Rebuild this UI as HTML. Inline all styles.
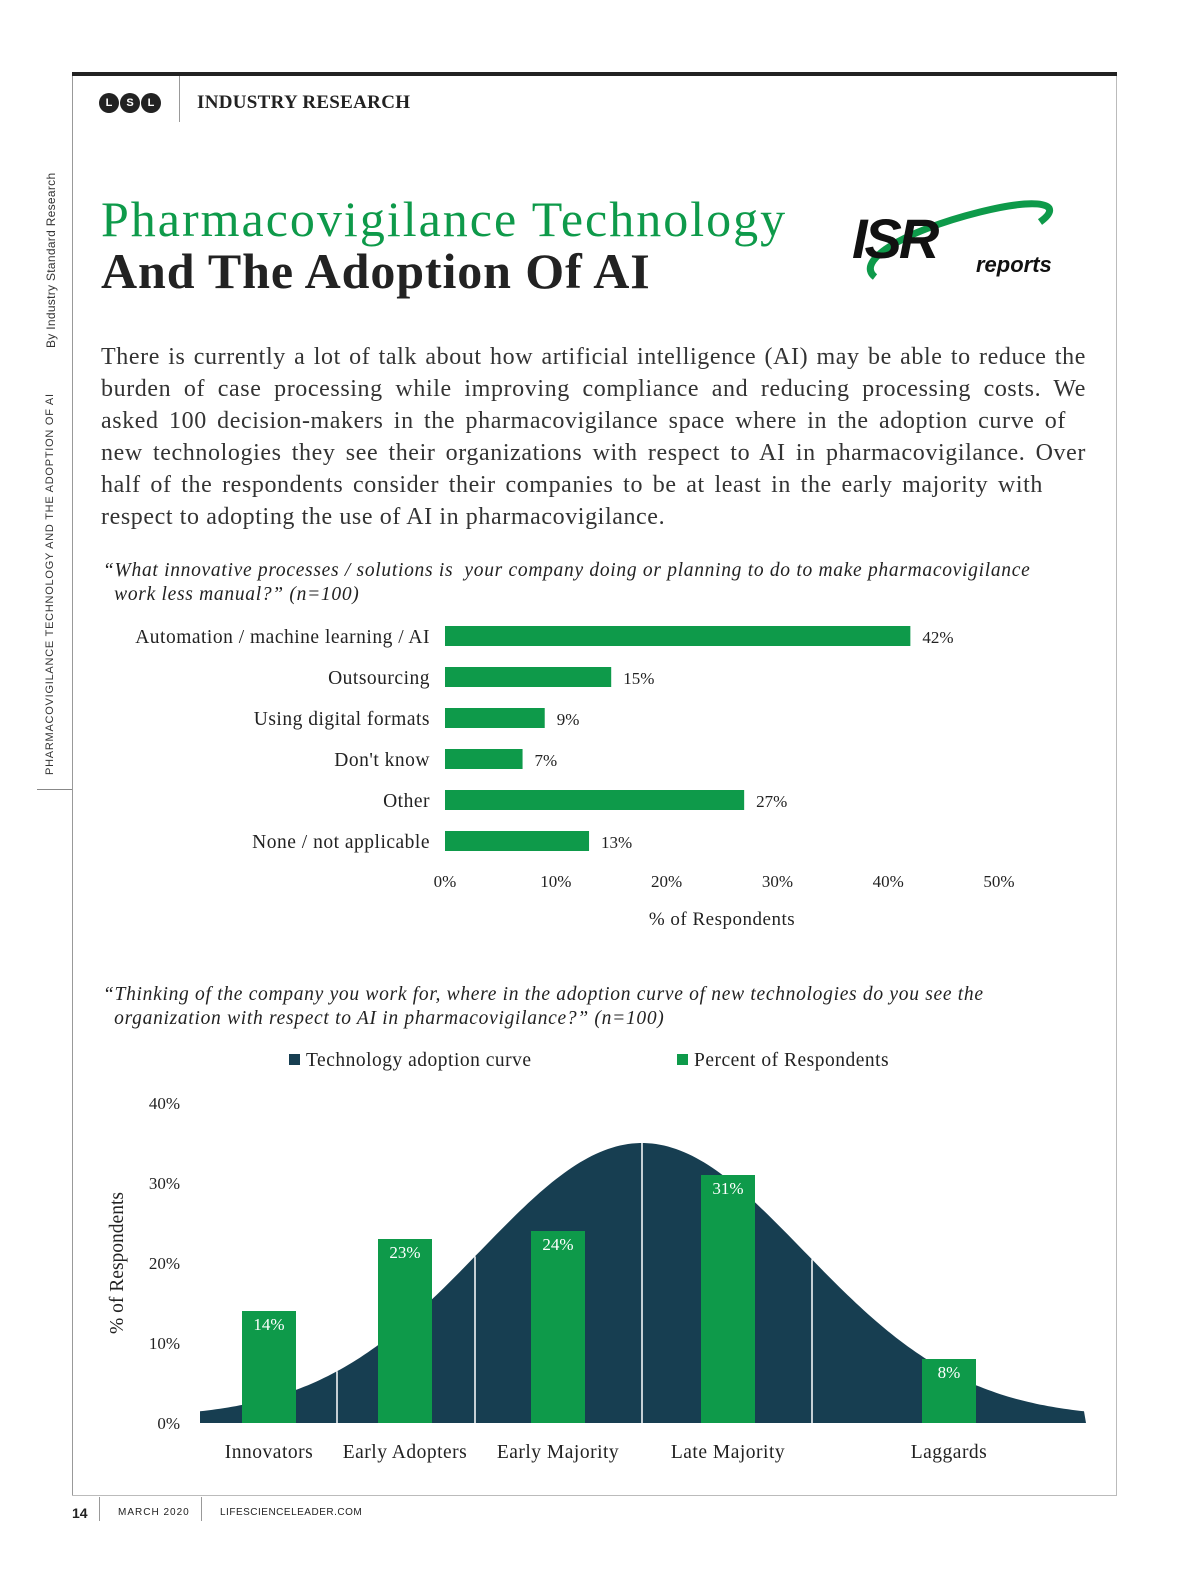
<!DOCTYPE html>
<html><head><meta charset="utf-8">
<style>
body{margin:0;background:#fff;width:1200px;height:1582px;position:relative;overflow:hidden;font-family:"Liberation Serif",serif;color:#222}
.abs{position:absolute}
svg text{font-family:"Liberation Serif",serif}
.ln{white-space:nowrap;text-align:justify;text-align-last:justify;width:985px}
</style></head><body>
<div class="abs" style="left:72px;top:72px;width:1045px;height:4px;background:#222"></div>
<div class="abs" style="left:72px;top:76px;width:1px;height:1420px;background:#999"></div>
<div class="abs" style="left:1116px;top:76px;width:1px;height:1420px;background:#bbb"></div>
<div class="abs" style="left:72px;top:1495px;width:1045px;height:1px;background:#bbb"></div>
<div class="abs" style="left:179px;top:76px;width:1px;height:46px;background:#999"></div>
<div class="abs" style="left:99px;top:93px;display:flex;gap:1px">
<span style="width:20px;height:20px;border-radius:50%;background:#222;color:#fff;font:bold 11px 'Liberation Sans',sans-serif;display:flex;align-items:center;justify-content:center">L</span>
<span style="width:20px;height:20px;border-radius:50%;background:#222;color:#fff;font:bold 11px 'Liberation Sans',sans-serif;display:flex;align-items:center;justify-content:center">S</span>
<span style="width:20px;height:20px;border-radius:50%;background:#222;color:#fff;font:bold 11px 'Liberation Sans',sans-serif;display:flex;align-items:center;justify-content:center">L</span></div>
<div class="abs" style="left:197px;top:92px;font-weight:bold;font-size:19px;letter-spacing:0.3px">INDUSTRY RESEARCH</div>
<div class="abs" style="left:44px;top:775px;transform-origin:0 0;transform:rotate(-90deg);font:11px 'Liberation Sans',sans-serif;letter-spacing:0.75px;white-space:nowrap;color:#333">PHARMACOVIGILANCE TECHNOLOGY AND THE ADOPTION OF AI</div>
<div class="abs" style="left:44px;top:348px;transform-origin:0 0;transform:rotate(-90deg);font:12px 'Liberation Sans',sans-serif;letter-spacing:0.3px;white-space:nowrap;color:#333">By Industry Standard Research</div>
<div class="abs" style="left:37px;top:789px;width:35px;height:1px;background:#888"></div>
<div class="abs" style="left:101px;top:190px;font-size:50px;letter-spacing:2px;color:#0e9a4a;white-space:nowrap">Pharmacovigilance Technology</div>
<div class="abs" style="left:101px;top:242px;font-size:50px;letter-spacing:0.9px;font-weight:bold;color:#222;white-space:nowrap">And The Adoption Of AI</div>
<svg class="abs" style="left:850px;top:192px" width="240" height="95">
<path d="M25,85 C5,70 50,40 130,20 C190,5 215,12 190,30" fill="none" stroke="#0e9a4a" stroke-width="7"/>
<text x="2" y="66" font-size="56" font-weight="bold" font-style="italic" fill="#111" style="font-family:'Liberation Sans',sans-serif;letter-spacing:-3px">ISR</text>
<text x="126" y="80" font-size="22" font-weight="bold" font-style="italic" fill="#111" style="font-family:'Liberation Sans',sans-serif">reports</text>
</svg>
<div class="abs" style="left:101px;top:341px;font-size:24px;line-height:32px;color:#333;letter-spacing:0.6px">
<div class="ln">There is currently a lot of talk about how artificial intelligence (AI) may be able to reduce the</div>
<div class="ln">burden of case processing while improving compliance and reducing processing costs. We</div>
<div class="ln" style="width:965px">asked 100 decision-makers in the pharmacovigilance space where in the adoption curve of</div>
<div class="ln">new technologies they see their organizations with respect to AI in pharmacovigilance. Over</div>
<div class="ln" style="width:942px">half of the respondents consider their companies to be at least in the early majority with</div>
<div style="white-space:nowrap">respect to adopting the use of AI in pharmacovigilance.</div>
</div>
<div class="abs" style="left:103px;top:559px;font-size:19.5px;letter-spacing:0.7px;line-height:24px;font-style:italic;color:#222;white-space:nowrap">“What innovative processes / solutions is &nbsp;your company doing or planning to do to make pharmacovigilance<br>&nbsp;&nbsp;work less manual?” (n=100)</div>
<svg class="abs" id="c1" style="left:0;top:600px" width="1200" height="340"></svg>
<div class="abs" style="left:103px;top:983px;font-size:19.5px;letter-spacing:0.7px;line-height:24px;font-style:italic;color:#222;white-space:nowrap">“Thinking of the company you work for, where in the adoption curve of new technologies do you see the<br>&nbsp;&nbsp;organization with respect to AI in pharmacovigilance?” (n=100)</div>
<svg class="abs" id="c2" style="left:0;top:1040px" width="1200" height="440"></svg>
<div class="abs" style="left:72px;top:1505px;font:bold 14px 'Liberation Sans',sans-serif">14</div>
<div class="abs" style="left:99px;top:1497px;width:1px;height:24px;background:#999"></div>
<div class="abs" style="left:118px;top:1507px;font:10px 'Liberation Sans',sans-serif;letter-spacing:1px">MARCH 2020</div>
<div class="abs" style="left:201px;top:1497px;width:1px;height:24px;background:#999"></div>
<div class="abs" style="left:220px;top:1507px;font:10px 'Liberation Sans',sans-serif;letter-spacing:0.5px">LIFESCIENCELEADER.COM</div>
<script>
const NS="http://www.w3.org/2000/svg";
const c1Categories=["Automation / machine learning / AI","Outsourcing","Using digital formats","Don't know","Other","None / not applicable"];
const c1Values=[42,15,9,7,27,13];
const c1Ticks=[0,10,20,30,40,50];
const c2Categories=["Innovators","Early Adopters","Early Majority","Late Majority","Laggards"];
const c2Values=[14,23,24,31,8];
const c2Ticks=[0,10,20,30,40];
function mk(p,t,a,txt){const e=document.createElementNS(NS,t);for(const k in a)e.setAttribute(k,a[k]);if(txt!=null)e.textContent=txt;p.appendChild(e);return e;}
const s1=document.getElementById('c1');
const x1=v=>445+v*11.08;
const y1=i=>36+i*41;
c1Categories.forEach((c,i)=>{
 const r=mk(s1,'rect',{x:x1(0),y:y1(i)-10,width:x1(c1Values[i])-x1(0),height:20,fill:'#0e9a4a'});
 
 
 const l=mk(s1,'text',{x:430,y:y1(i)+7,'text-anchor':'end','font-size':19.5,'letter-spacing':0.5,fill:'#222'},c);
 
 
 const v=mk(s1,'text',{x:x1(c1Values[i])+12,y:y1(i)+7,'font-size':17,fill:'#222'},c1Values[i]+'%');
 
 
});
c1Ticks.forEach(t=>{
 const e=mk(s1,'text',{x:x1(t),y:287,'text-anchor':'middle','font-size':17,fill:'#222'},t+'%');
 
 
});
const xt=mk(s1,'text',{x:722,y:325,'text-anchor':'middle','font-size':19,'letter-spacing':0.5,fill:'#222'},'% of Respondents');


const s2=document.getElementById('c2');
const base=383;const y2=v=>base-v*8;
const barX=[269,405,558,728,949];
[[289,'#173e51','Technology adoption curve'],[677,'#0e9a4a','Percent of Respondents']].forEach(([x,col,t])=>{
 const g=mk(s2,'g',{});
 
 
 mk(g,'rect',{x:x,y:14,width:11,height:11,fill:col});
 mk(g,'text',{x:x+17,y:26,'font-size':19.5,'letter-spacing':0.5,fill:'#222'},t);
});
c2Ticks.forEach(t=>{
 const e=mk(s2,'text',{x:180,y:y2(t)+6,'text-anchor':'end','font-size':17,fill:'#222'},t+'%');
 
 
});
const yt=mk(s2,'text',{x:0,y:0,'text-anchor':'middle','font-size':19.5,fill:'#222',transform:'translate(123,'+(y2(20))+') rotate(-90)'},'% of Respondents');


const curveFn=x=>5+275*Math.exp(-Math.pow(x-642,2)/(2*162*162));
let d='M200,'+base;
for(let x=200;x<=1086;x+=4){d+=' L'+x+','+(base-curveFn(x)).toFixed(1);}
d+=' L1086,'+base+' Z';
const cv=mk(s2,'path',{d:d,fill:'#173e51'});


[337,475,642,812].forEach(x=>{
 const ln=mk(s2,'line',{x1:x,x2:x,y1:base-curveFn(x),y2:base,stroke:'#fff','stroke-width':1.5});
 
 
});
c2Categories.forEach((c,i)=>{
 const r=mk(s2,'rect',{x:barX[i]-27,y:y2(c2Values[i]),width:54,height:y2(0)-y2(c2Values[i]),fill:'#0e9a4a'});
 
 
 const v=mk(s2,'text',{x:barX[i],y:y2(c2Values[i])+19,'text-anchor':'middle','font-size':17,fill:'#fff'},c2Values[i]+'%');
 
 
 const l=mk(s2,'text',{x:barX[i],y:418,'text-anchor':'middle','font-size':19.5,'letter-spacing':0.5,fill:'#222'},c);
 
 
});
</script>
</body></html>
